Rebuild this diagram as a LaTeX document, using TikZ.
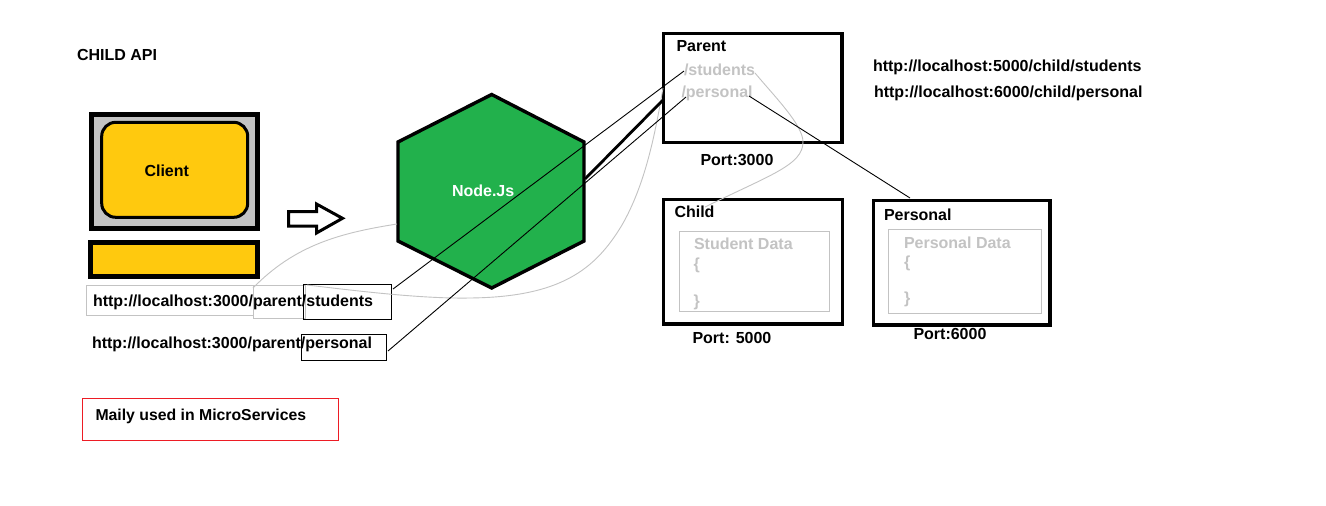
\documentclass[tikz,border=0pt]{standalone}
\usepackage{fontspec}
\setmainfont{Liberation Sans}
\definecolor{lgray}{HTML}{C3C3C3}
\definecolor{amber}{HTML}{FFC90E}
\definecolor{leaf}{HTML}{22B14C}
\definecolor{redline}{HTML}{ED1C24}
\tikzset{
  lbl/.style={anchor=base west,inner sep=0pt,outer sep=0pt,font=\fontsize{16}{18}\selectfont\bfseries,text=black},
  glbl/.style={lbl,text=lgray},
  wlbl/.style={lbl,text=white},
  heavy/.style={draw=black,line width=3.3pt},
  thinbox/.style={draw=black,line width=1pt},
  graybox/.style={draw=lgray,line width=1pt},
  graycurve/.style={draw=lgray,line width=0.9pt},
  blackline/.style={draw=black,line width=0.9pt},
}
% name, style, x1,y1,x2,y2 (centre line of the border, in pixels)
\newcommand{\pxbox}[6]{%
  \pgfmathsetmacro{\cxx}{(#3+#5)/2}\pgfmathsetmacro{\cyy}{(#4+#6)/2}%
  \pgfmathsetmacro{\wdd}{#5-#3}\pgfmathsetmacro{\htt}{#6-#4}%
  \node[#2,rectangle,inner sep=0pt,outer sep=0pt,minimum width=\wdd pt,minimum height=\htt pt] (#1) at (\cxx,\cyy) {};}
\begin{document}
\begin{tikzpicture}[x=1pt,y=-1pt]
\useasboundingbox (0,0) rectangle (1326,506);
\fill[white] (0,0) rectangle (1326,506);

% Client
\pxbox{monitor}{draw=black,line width=5pt,fill=lgray}{91.5}{114.5}{257.5}{228.5}
\node[draw=black,line width=3pt,fill=amber,rectangle,rounded corners=14pt,inner sep=0pt,minimum width=146pt,minimum height=95pt] (screen) at (174.7,169.8) {};
\pxbox{stand}{draw=black,line width=5pt,fill=amber}{90.5}{242.5}{257.5}{276.5}
\node[lbl] (clientlbl) at (144.5,176.5) {Client};

% Block arrow
\draw[black,line width=3pt,fill=white,miter limit=10] (288.5,211.5) -- (316.5,211.5) -- (316.5,204) -- (342.5,218.3) -- (316.5,233) -- (316.5,226) -- (288.5,226) -- cycle;

% Node.Js
\draw[black,line width=3.4pt,fill=leaf] (491.7,94.5) -- (584,142) -- (584,241) -- (491.7,288) -- (398,241) -- (398,142) -- cycle;
\coordinate (hexleft) at (397,224);
\coordinate (hexright) at (585,179);
\node[wlbl] (nodelbl) at (452,196.7) {Node.Js};

% URLs left
\pxbox{urlbox}{graybox}{86.5}{285.5}{253}{315.5}
\pxbox{midbox}{graybox}{253}{285.5}{305}{318}
\pxbox{studbox}{thinbox}{303.5}{284.5}{391.5}{319}
\pxbox{persbox}{thinbox}{301.5}{334.5}{386.5}{360}
\node[lbl] (url1) at (93,306.7) {http://localhost:3000/parent/students};
\node[lbl] (url2) at (92,348.7) {http://localhost:3000/parent/personal};

% Note
\pxbox{note}{draw=redline,line width=1pt}{82.5}{398.5}{338.5}{440}
\node[lbl,font=\fontsize{15.8}{18}\selectfont\bfseries] (notelbl) at (95.5,420) {Maily used in MicroServices};

\node[lbl] (title) at (77,60) {CHILD API};

% Parent
\pxbox{parent}{heavy}{663.7}{33.7}{842}{142.5}
\node[lbl] (parentlbl) at (676.5,51.7) {Parent};
\node[glbl] (pstud) at (684,75.7) {/students};
\node[glbl] (ppers) at (681.5,97) {/personal};
\node[lbl] (port3) at (700.5,165.7) {Port:3000};

% Child
\pxbox{child}{heavy}{663.7}{199.7}{842.3}{324}
\pxbox{childin}{graybox}{679.5}{231.5}{829.5}{311.5}
\node[lbl] (childlbl) at (674.5,217.7) {Child};
\node[glbl] (sdata) at (694,249.7) {Student Data};
\node[glbl] (sopen) at (693.5,269.5) {\{};
\node[glbl] (sclose) at (693.5,306) {\}};
\node[lbl] (port5) at (692.5,343) {Port: 5000};

% Personal
\pxbox{personal}{heavy}{873.7}{200.7}{1050}{325}
\pxbox{persin}{graybox}{888.5}{229.5}{1041.5}{313.5}
\node[lbl] (perslbl) at (884,220) {Personal};
\node[glbl] (pdata) at (904,248) {Personal Data};
\node[glbl] (popen) at (904,267.5) {\{};
\node[glbl] (pclose) at (904,303.5) {\}};
\node[lbl] (port6) at (913.5,339.5) {Port:6000};

% Right URLs
\node[lbl] (rurl1) at (873,71) {http://localhost:5000/child/students};
\node[lbl] (rurl2) at (874,97) {http://localhost:6000/child/personal};

% Anchors of the connectors
\coordinate (studout) at (393,289);
\coordinate (persout) at (388,351);
\coordinate (pstudin) at (684,71);
\coordinate (ppersin) at (686,97);
\coordinate (parentin) at (664,99);
\coordinate (parentedge) at (663,88);
\coordinate (urlcorner) at (253,288);
\coordinate (studtop) at (307,285);
\coordinate (pstudout) at (755,73);
\coordinate (childin) at (705,207);
\coordinate (ppersout) at (749,96);
\coordinate (personalin) at (910,198);

% Connectors
\draw[graycurve] (hexleft) .. controls (340,233) and (295,245) .. (urlcorner);
\draw[graycurve] (studtop) .. controls (350,290) and (420,299) .. (470,298) .. controls (560,297) and (595,270) .. (622,225) .. controls (645,185) and (655,135) .. (parentedge);
\draw[graycurve] (pstudout) .. controls (775,97) and (803,125) .. (803,142) .. controls (803,165) and (770,175) .. (childin);
\draw[blackline] (studout) -- (pstudin);
\draw[blackline] (persout) -- (ppersin);
\draw[blackline] (ppersout) -- (personalin);
\draw[black,line width=2.8pt] (hexright) -- (parentin);
\end{tikzpicture}
\end{document}
